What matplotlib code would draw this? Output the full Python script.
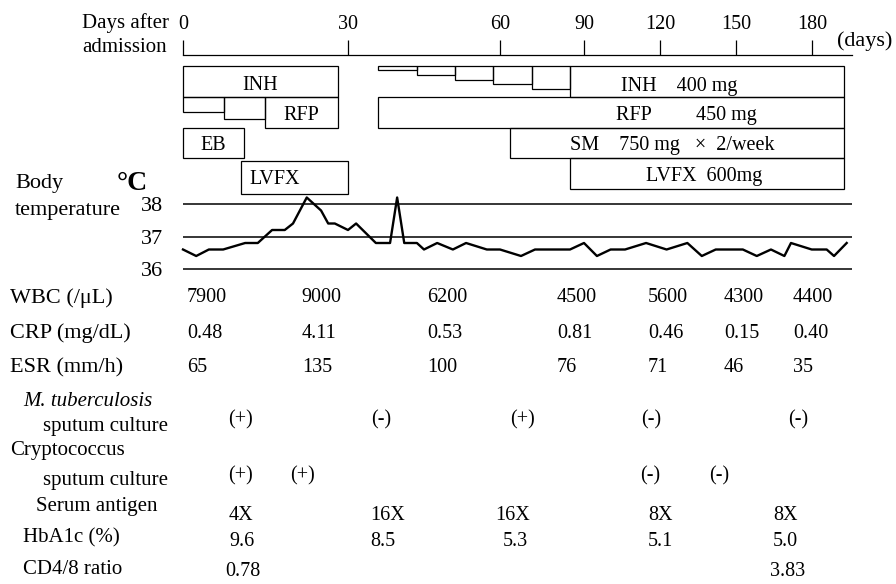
import numpy as np
import matplotlib
matplotlib.use("Agg")
import matplotlib.pyplot as plt
import matplotlib.patches as mpatches
import matplotlib.transforms as mtransforms

plt.rcParams['font.family'] = ['Liberation Serif', 'DejaVu Serif']

W, H = 896, 584

# --- time axis (days after admission); spacing on the axis is not uniform ---
axis_days = [0, 30, 60, 90, 120, 150, 180, 195.8]
axis_px = [183, 348, 500, 584, 660, 736, 812, 852]
day_ticks = [0, 30, 60, 90, 120, 150, 180]

# --- drug regimens (start day, end day) ---
inh1 = (0, 28.2)
rfp1_steps = [0, 7.4, 14.9, 28.2]          # dose escalation
rfp1_dose = [0.5, 0.73, 1.0]
eb1 = (0, 11.1)
lvfx1 = (10.5, 30.0)
inh2_steps = [35.9, 43.6, 51.1, 58.6, 71.4, 85.0, 192.6]
inh2_dose = [0.13, 0.29, 0.45, 0.58, 0.74, 1.0]
rfp2 = (35.9, 192.6)
sm2 = (63.6, 192.6)
lvfx2 = (85.0, 192.6)

# --- body temperature ---
temp_days = [0, 2.4, 4.7, 7.3, 11.3, 13.6, 16.2, 18.5, 20, 22.5,
             25.1, 26.4, 27.6, 30, 31.6, 35.5, 38.3, 39.7, 41.1, 43.6,
             45, 47.6, 50.7, 53.3, 57.4, 60, 67.5, 72.5, 85, 90,
             95.1, 100.5, 106.2, 114.5, 122.6, 130.8, 136.5, 142, 152.7, 158.2,
             163.8, 169.1, 171.7, 179.9, 185.8, 188.7, 193.7]
temp_vals = [36.6, 36.4, 36.6, 36.6, 36.8, 36.8, 37.2, 37.2, 37.4, 38.2,
             37.8, 37.4, 37.4, 37.2, 37.4, 36.8, 36.8, 38.2, 36.8, 36.8,
             36.6, 36.8, 36.6, 36.8, 36.6, 36.6, 36.4, 36.6, 36.6, 36.8,
             36.4, 36.6, 36.6, 36.8, 36.6, 36.8, 36.4, 36.6, 36.6, 36.4,
             36.6, 36.4, 36.8, 36.6, 36.6, 36.4, 36.8]

# --- laboratory data ---
lab_days = [0.7, 21.6, 45.6, 80.4, 115.3, 145.3, 172.5]
wbc = [7900, 9000, 6200, 4500, 5600, 4300, 4400]
crp = [0.48, 4.11, 0.53, 0.81, 0.46, 0.15, 0.40]
esr = [65, 135, 100, 76, 71, 46, 35]
tb_days = [10.5, 36.5, 67.9, 116.5, 174.5]
tb_result = ['(+)', '(-)', '(+)', '(-)', '(-)']
crypto_days = [10.5, 21.8, 116.1, 143.3]
crypto_result = ['(+)', '(+)', '(-)', '(-)']
antigen_days = [10.5, 37.9, 64.6, 120, 169.4]
antigen_titer = [4, 16, 16, 8, 8]
hba1c_days = [10.7, 36.9, 65.4, 120, 169.4]
hba1c = [9.6, 8.5, 5.3, 5.1, 5.0]
cd48_days = [10.9, 170.5]
cd48 = [0.78, 3.83]

TXT_DY = 3  # text sits a little lower than its bbox centre


def fwd(d):
    return np.interp(d, axis_days, axis_px)


def inv(p):
    return np.interp(p, axis_px, axis_days)


def px_rect(x0, y0, x1, y1):
    return [x0 / W, 1 - y1 / H, (x1 - x0) / W, (y1 - y0) / H]


def fy(y):
    return 1 - (y + TXT_DY) / H


def day_axes(rect):
    ax = fig.add_axes(rect)
    ax.set_xscale('function', functions=(fwd, inv))
    ax.set_xlim(axis_days[0], axis_days[-1])
    ax.patch.set_alpha(0)
    return ax


fig = plt.figure(figsize=(W / 100, H / 100), dpi=100)

# timeline
ax_t = day_axes(px_rect(183, 40, 852, 55))
for s in ['top', 'left', 'right']:
    ax_t.spines[s].set_visible(False)
ax_t.spines['bottom'].set_linewidth(0.9)
ax_t.set_yticks([])
ax_t.set_xticks(day_ticks)
ax_t.set_xticklabels([str(d) for d in day_ticks])
ax_t.xaxis.set_minor_locator(matplotlib.ticker.NullLocator())
ax_t.tick_params(axis='x', direction='in', length=11, width=0.9, top=False, bottom=True,
                 labeltop=True, labelbottom=False, labelsize=14.5, pad=4)
fig.text(82 / W, fy(20), "Days after", fontsize=15, ha='left', va='center')
fig.text(82 / W, fy(45), "admission", fontsize=15, ha='left', va='center')
fig.text(837 / W, fy(38), "(days)", fontsize=16, ha='left', va='center')

# drug boxes (rows: INH, RFP, EB/SM, LVFX)
ax_d = day_axes(px_rect(183, 66, 852, 189))
ax_d.set_ylim(4, 0)
ax_d.axis('off')
box_kw = dict(facecolor='none', edgecolor='black', linewidth=0.9, clip_on=False)


def box(x0, x1, top, height):
    ax_d.add_patch(mpatches.Rectangle((x0, top), x1 - x0, height, **box_kw))


box(inh1[0], inh1[1], 0, 1)
for a, b, f in zip(rfp1_steps[:-1], rfp1_steps[1:], rfp1_dose):
    box(a, b, 1, f)
box(eb1[0], eb1[1], 2, 1)
box(lvfx1[0], lvfx1[1], 3.1, 1.07)
for a, b, f in zip(inh2_steps[:-1], inh2_steps[1:], inh2_dose):
    box(a, b, 0, f)
box(rfp2[0], rfp2[1], 1, 1)
box(sm2[0], sm2[1], 2, 1)
box(lvfx2[0], lvfx2[1], 3, 1)

lab_kw = dict(fontsize=14.5, ha='center', va='center')
ax_d.text(14, 0.62, "INH", **lab_kw)
ax_d.text(21.5, 1.62, "RFP", **lab_kw)
ax_d.text(5.5, 2.6, "EB", **lab_kw)
ax_d.text(16.7, 3.68, "LVFX", **lab_kw)
ax_d.text(127.5, 0.68, "INH    400 mg", **lab_kw)
ax_d.text(130.3, 1.6, "RFP         450 mg", **lab_kw)
ax_d.text(124.9, 2.58, "SM    750 mg   \u00d7  2/week", **lab_kw)
ax_d.text(137.4, 3.58, "LVFX  600mg", **lab_kw)

# body temperature
ax_b = day_axes(px_rect(183, 194.25, 852, 272.25))
ax_b.set_ylim(35.9, 38.3)
for s in ax_b.spines.values():
    s.set_visible(False)
ax_b.set_xticks([])
ax_b.set_yticks([36, 37, 38])
ax_b.tick_params(axis='y', length=0, labelsize=16, pad=14)
for t in [36, 37, 38]:
    ax_b.axhline(t, color='black', linewidth=1.1)
ax_b.plot(temp_days, temp_vals, color='black', linewidth=1.7, clip_on=False)
fig.text(15 / W, fy(181), "Body", fontsize=16, ha='left', va='center')
fig.text(15 / W, fy(208), "temperature", fontsize=16, ha='left', va='center')
fig.text(117 / W, fy(181), "\u00b0C", fontsize=20, fontweight='bold', ha='left', va='center')

# laboratory table
trans = mtransforms.blended_transform_factory(ax_t.transData, fig.transFigure)


def row_label(x, y, s, size=15, **kw):
    fig.text(x / W, fy(y), s, fontsize=size, ha='left', va='center', **kw)


def row_values(days, vals, y, ha='center'):
    for d, v in zip(days, vals):
        fig.text(d, fy(y), v, transform=trans, fontsize=14.5, ha=ha, va='center')


row_label(10, 295, "WBC (/\u03bcL)", 16)
row_label(10, 330, "CRP (mg/dL)", 16)
row_label(10, 365, "ESR (mm/h)", 16)
row_label(23, 398, "M. tuberculosis", style='italic')
row_label(43, 423, "sputum culture")
row_label(10, 448, "Cryptococcus")
row_label(43, 477, "sputum culture")
row_label(36, 503, "Serum antigen")
row_label(23, 535, "HbA1c (%)")
row_label(23, 566, "CD4/8 ratio")

row_values(lab_days, [str(v) for v in wbc], 295, ha='left')
row_values(lab_days, [f"{v:.2f}" for v in crp], 330, ha='left')
row_values(lab_days, [str(v) for v in esr], 365, ha='left')
row_values(tb_days, tb_result, 417)
row_values(crypto_days, crypto_result, 473)
row_values(antigen_days, [f"{v}X" for v in antigen_titer], 512)
row_values(hba1c_days, [f"{v:.1f}" for v in hba1c], 538)
row_values(cd48_days, [f"{v:.2f}" for v in cd48], 568)

fig.savefig("out.png", dpi=100)
